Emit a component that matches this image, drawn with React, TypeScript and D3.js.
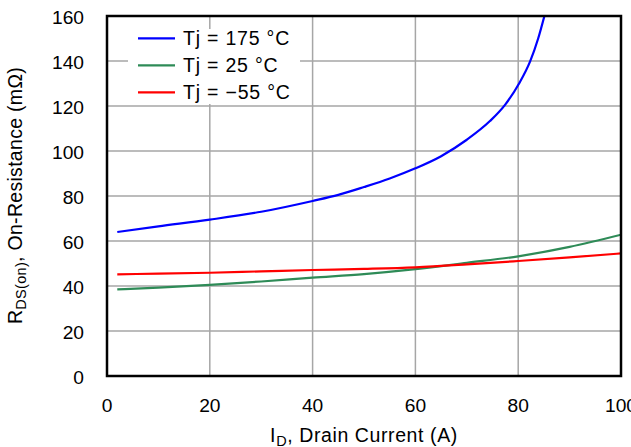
import * as d3 from "d3";

// Drain current (A) sample points and on-resistance (mOhm)
const ID_175 = [2, 10, 20, 30, 40, 45, 50, 55, 60, 65, 70, 74.5, 77.4, 80.2, 82.3, 83.9, 85.1];
const RDS_175 = [64, 66.5, 69.5, 73, 77.8, 80.5, 84, 87.8, 92.3, 97.7, 105, 113.3, 120.4, 130.1, 139.7, 150.1, 160];

const ID_25 = [2, 10, 20, 30, 40, 50, 60, 70, 80, 90, 100];
const RDS_25 = [38.5, 39.3, 40.5, 42, 43.7, 45.3, 47.5, 50.3, 53.2, 57.4, 62.8];

const ID_M55 = [2, 10, 20, 30, 40, 50, 60, 70, 80, 90, 100];
const RDS_M55 = [45.2, 45.5, 45.9, 46.5, 47.1, 47.6, 48.3, 49.6, 51.1, 52.7, 54.5];

const X_TICKS = [0, 20, 40, 60, 80, 100];
const Y_TICKS = [0, 20, 40, 60, 80, 100, 120, 140, 160];

const SERIES = [
  { name: "Tj = 175 °C", color: "#0000ff", xs: ID_175, ys: RDS_175 },
  { name: "Tj = 25 °C", color: "#2e8b57", xs: ID_25, ys: RDS_25 },
  { name: "Tj = \u221255 °C", color: "#ff0000", xs: ID_M55, ys: RDS_M55 },
];

const FONT = "'Liberation Sans', Arial, Helvetica, sans-serif";

export default function App() {
  const width = 631;
  const height = 447;
  const margin = { top: 16, right: 10, bottom: 71, left: 107 };
  const plotW = 621 - margin.left;
  const plotH = 376 - margin.top;

  const x = d3.scaleLinear().domain([0, 100]).range([0, plotW]);
  const y = d3.scaleLinear().domain([0, 160]).range([plotH, 0]);

  const line = d3
    .line<[number, number]>()
    .x((d) => x(d[0]))
    .y((d) => y(d[1]))
    .curve(d3.curveMonotoneX);

  return (
    <svg
      width={width}
      height={height}
      style={{ position: "absolute", left: 0, top: 0, background: "white" }}
      fontFamily={FONT}
    >
      <defs>
        <clipPath id="plot-clip">
          <rect x={0} y={0} width={plotW} height={plotH} />
        </clipPath>
      </defs>
      <g transform={`translate(${margin.left},${margin.top})`}>
        {/* grid */}
        {X_TICKS.slice(1, -1).map((t) => (
          <line key={"gx" + t} x1={x(t)} x2={x(t)} y1={0} y2={plotH} stroke="#a6a6a6" strokeWidth={1.5} />
        ))}
        {Y_TICKS.slice(1, -1).map((t) => (
          <line key={"gy" + t} x1={0} x2={plotW} y1={y(t)} y2={y(t)} stroke="#a6a6a6" strokeWidth={1.5} />
        ))}

        {/* legend background hides grid */}
        <rect x={128 - margin.left} y={29 - margin.top} width={172} height={75} fill="white" />

        {/* curves */}
        <g clipPath="url(#plot-clip)">
          {SERIES.map((s) => (
            <path
              key={s.name}
              d={line(s.xs.map((v, i) => [v, s.ys[i]] as [number, number])) || ""}
              fill="none"
              stroke={s.color}
              strokeWidth={2.2}
            />
          ))}
        </g>

        {/* frame */}
        <rect x={0} y={0} width={plotW} height={plotH} fill="none" stroke="black" strokeWidth={2.5} />

        {/* legend */}
        {SERIES.map((s, i) => {
          const ly = 38.3 + i * 27 - margin.top;
          return (
            <g key={"lg" + i}>
              <line x1={138 - margin.left} x2={175 - margin.left} y1={ly} y2={ly} stroke={s.color} strokeWidth={2.2} />
              <text x={183 - margin.left} y={ly + 7} fontSize={19.5} letterSpacing={0.8} fill="black">
                {s.name}
              </text>
            </g>
          );
        })}

        {/* y tick labels */}
        {Y_TICKS.map((t) => (
          <text key={"yt" + t} x={84 - margin.left} y={y(t) + 7.8} textAnchor="end" fontSize={19.2} fill="black">
            {t}
          </text>
        ))}

        {/* x tick labels */}
        {X_TICKS.map((t) => (
          <text key={"xt" + t} x={x(t)} y={412 - margin.top} textAnchor="middle" fontSize={19.2} fill="black">
            {t}
          </text>
        ))}
      </g>

      {/* axis titles */}
      <text x={364} y={441.5} textAnchor="middle" fontSize={19.5} letterSpacing={0.6} fill="black">
        I<tspan fontSize={14.5} dy={4}>D</tspan>
        <tspan dy={-4}>, Drain Current (A)</tspan>
      </text>
      <text transform="translate(22,195.5) rotate(-90)" textAnchor="middle" fontSize={19.5} letterSpacing={0.3} fill="black">
        R<tspan fontSize={14.5} dy={4}>DS(on)</tspan>
        <tspan dy={-4}>, On-Resistance (mΩ)</tspan>
      </text>
    </svg>
  );
}
